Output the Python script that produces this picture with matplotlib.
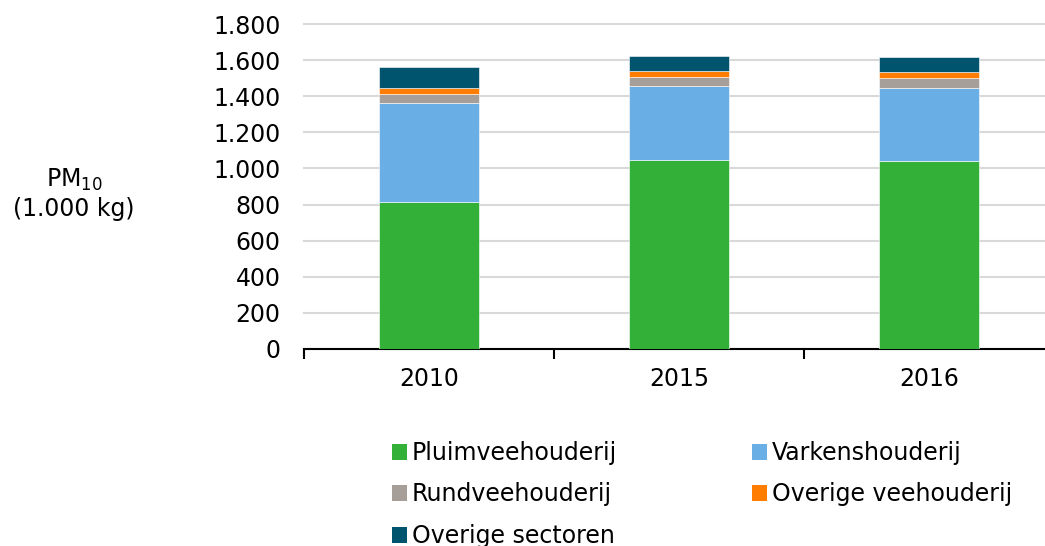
import numpy as np
import matplotlib
matplotlib.use("Agg")
import matplotlib.pyplot as plt
from matplotlib.patches import Patch

# Data (1.000 kg PM10)
years = ["2010", "2015", "2016"]
sectors = ["Pluimveehouderij", "Varkenshouderij", "Rundveehouderij",
           "Overige veehouderij", "Overige sectoren"]
pluimvee = [815, 1045, 1040]
varkens = [548, 409, 403]
rundvee = [48, 50, 56]
overige_vee = [37, 37, 33]
overige_sect = [114, 83, 86]
y_ticks = [0, 200, 400, 600, 800, 1000, 1200, 1400, 1600, 1800]
y_ticklabels = ["0", "200", "400", "600", "800", "1.000", "1.200", "1.400", "1.600", "1.800"]

colors = ["#33B037", "#69AEE4", "#A69F99", "#FF7D00", "#00546E"]
series = [pluimvee, varkens, rundvee, overige_vee, overige_sect]

plt.rcParams["font.family"] = "DejaVu Sans"
fs = 17

fig = plt.figure(figsize=(10.45, 5.46), dpi=100)
W, H = 1045, 546
ax = fig.add_axes([304 / W, 1 - 349 / H, 750 / W, (349 - 24) / H])

x = np.arange(len(years))
bottom = np.zeros(len(years))
for vals, c in zip(series, colors):
    ax.bar(x, vals, width=0.4, bottom=bottom, color=c,
           edgecolor="white", linewidth=0.4, zorder=3)
    bottom += np.array(vals)

ax.set_xlim(-0.5, 2.5)
ax.set_ylim(0, 1800)
ax.set_yticks(y_ticks)
ax.set_yticklabels(y_ticklabels, fontsize=fs)
ax.tick_params(axis="y", length=0, pad=17)
ax.yaxis.grid(True, color="#D9D9D9", linewidth=1.5, zorder=0)
for gl in ax.get_ygridlines():
    gl.set_clip_on(False)

ax.set_xticks(x)
ax.set_xticklabels(years, fontsize=fs)
ax.tick_params(axis="x", which="major", length=0, pad=13)
ax.set_xticks([-0.5, 0.5, 1.5, 2.5], minor=True)
ax.tick_params(axis="x", which="minor", length=7, width=1.5, color="black")

for s in ["top", "right", "left"]:
    ax.spines[s].set_visible(False)
ax.spines["bottom"].set_linewidth(1.5)
ax.spines["bottom"].set_color("black")

fig.text(74 / W, 1 - 194 / H, "PM$_{10}$\n(1.000 kg)", fontsize=fs,
         ha="center", va="center", linespacing=1.2)

handles = [Patch(facecolor=c, label=s) for c, s in zip(colors, sectors)]
order = [0, 2, 4, 1, 3]
leg = fig.legend([handles[i] for i in order], [sectors[i] for i in order],
                 ncol=2, loc="upper left", bbox_to_anchor=(392 / W, 1 - 441 / H),
                 frameon=False, fontsize=fs, handlelength=0.65, handleheight=0.65,
                 handletextpad=0.2, columnspacing=5.7, labelspacing=0.74,
                 borderaxespad=0, borderpad=0)

fig.savefig("out.png", dpi=100)
